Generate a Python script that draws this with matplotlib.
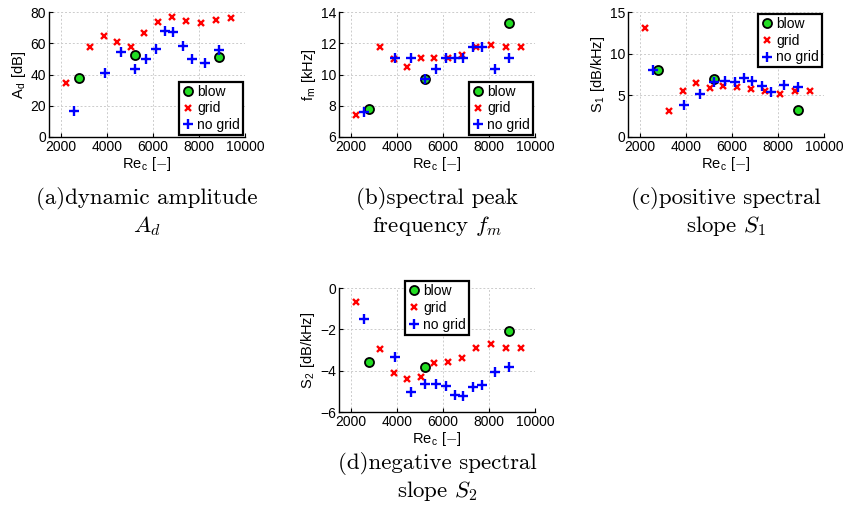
import matplotlib
matplotlib.use("Agg")
import matplotlib.pyplot as plt

# ---------------- data ----------------
grid_x = [2250, 3270, 3900, 4470, 5070, 5640, 6230, 6850, 7460, 8090, 8750, 9400]
nogrid_x = [2570, 3930, 4610, 5240, 5710, 6150, 6530, 6890, 7310, 7720, 8260, 8890]
blow_x = [2810, 5240, 8870]

Ad_grid = [34.3, 57.5, 64.8, 60.9, 57.5, 66.3, 73.8, 77.0, 74.4, 72.7, 74.9, 75.9]
Ad_nogrid = [16.5, 41.2, 54.7, 43.3, 49.8, 56.4, 67.8, 66.9, 58.3, 50.2, 47.6, 55.8]
Ad_blow = [37.5, 52.3, 51.5]

fm_grid = [7.39, 11.73, 11.0, 10.5, 11.04, 11.04, 11.04, 11.26, 11.73, 11.9, 11.73, 11.73]
fm_nogrid = [7.6, 11.04, 11.04, 9.69, 10.33, 11.04, 11.04, 11.04, 11.73, 11.73, 10.33, 11.04]
fm_blow = [7.78, 9.69, 13.27]

S1_grid = [13.03, 3.14, 5.51, 6.51, 5.83, 6.11, 5.95, 5.71, 5.55, 5.15, 5.55, 5.51]
S1_nogrid = [8.04, 3.82, 5.15, 6.64, 6.76, 6.64, 7.04, 6.76, 6.11, 5.43, 6.23, 6.03]
S1_blow = [8.04, 6.96, 3.30]

S2_grid = [-0.68, -2.95, -4.11, -4.40, -4.31, -3.63, -3.60, -3.39, -2.90, -2.73, -2.90, -2.90]
S2_nogrid = [-1.48, -3.35, -5.05, -4.63, -4.63, -4.73, -5.16, -5.24, -4.79, -4.68, -4.08, -3.84]
S2_blow = [-3.58, -3.84, -2.10]

series_labels = ["blow", "grid", "no grid"]
xticks = [2000, 4000, 6000, 8000, 10000]
xlabel = r"Re$_\mathregular{c}$ [$-$]"

panels = [
    dict(pos=(49, 12, 245, 137), yb=Ad_blow, yg=Ad_grid, yn=Ad_nogrid,
         ylim=(0, 80), yticks=[0, 20, 40, 60, 80], ylabel=r"A$_\mathregular{d}$ [dB]",
         leg=dict(loc="lower right", bbox_to_anchor=(1.0, 0.0)),
         cap=("(a)dynamic amplitude", r"$A_d$"), capy=(204, 232)),
    dict(pos=(339, 12, 535, 137), yb=fm_blow, yg=fm_grid, yn=fm_nogrid,
         ylim=(6, 14), yticks=[6, 8, 10, 12, 14], ylabel=r"f$_\mathregular{m}$ [kHz]",
         leg=dict(loc="lower right", bbox_to_anchor=(1.0, 0.0)),
         cap=("(b)spectral peak", r"frequency $f_m$"), capy=(204, 232)),
    dict(pos=(628, 12, 824, 137), yb=S1_blow, yg=S1_grid, yn=S1_nogrid,
         ylim=(0, 15), yticks=[0, 5, 10, 15], ylabel=r"S$_\mathregular{1}$ [dB/kHz]",
         leg=dict(loc="upper right", bbox_to_anchor=(1.0, 1.0)),
         cap=("(c)positive spectral", r"slope $S_1$"), capy=(204, 232)),
    dict(pos=(339, 288, 535, 412), yb=S2_blow, yg=S2_grid, yn=S2_nogrid,
         ylim=(-6, 0), yticks=[-6, -4, -2, 0], ylabel=r"S$_\mathregular{2}$ [dB/kHz]",
         leg=dict(loc="upper center", bbox_to_anchor=(0.5, 1.07)),
         cap=("(d)negative spectral", r"slope $S_2$"), capy=(469, 497)),
]

W, H = 843, 508
plt.rcParams["font.family"] = ["Liberation Sans", "DejaVu Sans"]
plt.rcParams["mathtext.fontset"] = "cm"
plt.rcParams["axes.unicode_minus"] = True

fig = plt.figure(figsize=(W / 100, H / 100), dpi=100)

for p in panels:
    l, t, r, b = p["pos"]
    ax = fig.add_axes([l / W, 1 - b / H, (r - l) / W, (b - t) / H])
    hb, = ax.plot(blow_x, p["yb"], "o", ms=6.5, mfc="#22dd22", mec="black", mew=1.3,
                  linestyle="none", label=series_labels[0], zorder=3)
    hg, = ax.plot(grid_x, p["yg"], "x", ms=4.8, color="red", mew=1.7,
                  linestyle="none", label=series_labels[1], zorder=4)
    hn, = ax.plot(nogrid_x, p["yn"], "+", ms=7.5, color="blue", mew=1.7,
                  linestyle="none", label=series_labels[2], zorder=5)
    ax.set_xlim(1500, 10000)
    ax.set_ylim(*p["ylim"])
    ax.set_xticks(xticks)
    ax.set_yticks(p["yticks"])
    ax.grid(True, linestyle=(0, (2, 2)), color="#cccccc", linewidth=0.7)
    ax.set_axisbelow(True)
    for s in ("top", "right"):
        ax.spines[s].set_visible(False)
    for s in ("left", "bottom"):
        ax.spines[s].set_linewidth(1.0)
    ax.tick_params(direction="in", length=3, labelsize=10, pad=2)
    ax.set_xlabel(xlabel, fontsize=10.5, labelpad=1)
    ax.set_ylabel(p["ylabel"], fontsize=10.5, labelpad=2)
    leg = ax.legend(handles=[hb, hg, hn], fontsize=10, frameon=True, fancybox=False,
                    framealpha=1, edgecolor="black", borderpad=0.2,
                    handlelength=0.8, handletextpad=0.3, labelspacing=0.2,
                    borderaxespad=0.15, **p["leg"])
    leg.get_frame().set_linewidth(1.6)
    leg.set_zorder(10)
    cx = (l + r) / 2 / W
    c1, c2 = p["cap"]
    y1, y2 = p["capy"]
    fig.text(cx, 1 - y1 / H, c1, ha="center", va="baseline",
             fontsize=16.5, family="cmr10")
    fig.text(cx, 1 - y2 / H, c2, ha="center", va="baseline",
             fontsize=16.5, family="cmr10")

fig.savefig("out.png", dpi=100)
